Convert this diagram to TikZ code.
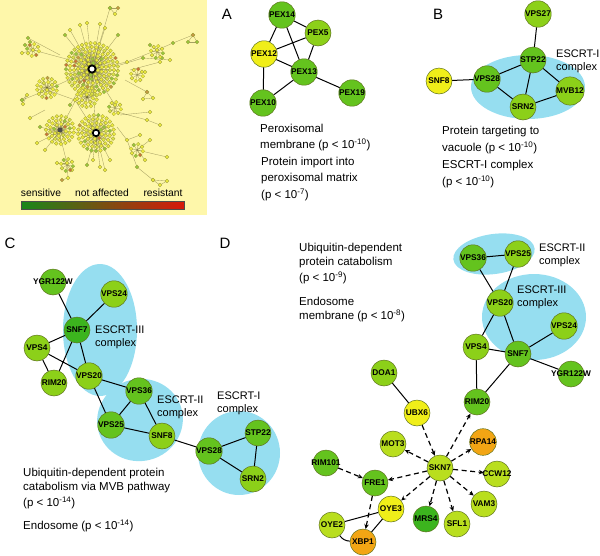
\documentclass[tikz,border=0pt]{standalone}
\usepackage{fontspec}
\setmainfont{Liberation Sans}
\usetikzlibrary{arrows.meta,shapes.geometric}
\definecolor{bgY}{RGB}{254,247,170}
\definecolor{escrt}{RGB}{150,222,240}
\definecolor{nedge}{RGB}{95,115,30}
\definecolor{gD}{RGB}{60,180,30}
\definecolor{gG}{RGB}{100,195,30}
\definecolor{gY}{RGB}{140,208,25}
\definecolor{gL}{RGB}{185,222,30}
\definecolor{gYe}{RGB}{240,238,25}
\definecolor{gO}{RGB}{242,165,20}
\definecolor{hy}{RGB}{238,236,60}
\definecolor{hy2}{RGB}{220,228,70}
\definecolor{hg}{RGB}{150,200,60}
\definecolor{hl}{RGB}{200,150,70}
\definecolor{ho}{RGB}{205,110,60}
\definecolor{hline}{RGB}{95,90,40}
\definecolor{hdotc}{RGB}{160,160,60}
\definecolor{barG}{RGB}{25,135,25}
\definecolor{barY}{RGB}{205,222,25}
\definecolor{barR}{RGB}{215,25,10}
\begin{document}
\begin{tikzpicture}[x=1pt,y=-1pt,
  gene/.style={circle, draw=nedge, line width=0.5pt, minimum size=26pt, inner sep=0pt,
    font=\fontsize{8.3}{8.3}\selectfont\bfseries},
  edge/.style={line width=1pt, black},
  tf/.style={line width=1.2pt, black, dash pattern=on 5pt off 3.5pt, -{Stealth[length=5pt,width=4.5pt]}},
  cx/.style={ellipse, fill=escrt, draw=none, inner sep=0pt},
  lbl/.style={font=\fontsize{11.5}{13}\selectfont, anchor=west, inner sep=0pt},
  clbl/.style={font=\fontsize{11}{13}\selectfont, anchor=west, inner sep=0pt, align=left},
  panel/.style={font=\fontsize{15}{15}\selectfont, inner sep=0pt},
  hl1/.style={draw=hline, line width=0.35pt, draw opacity=0.55},
  hdot/.style={draw=hdotc, line width=0.3pt}]
\useasboundingbox (0,0) rectangle (600,555);
% ---------- overview network ----------
\fill[bgY] (0,0) rectangle (207,215);
\def\branches{92/69/110/8, 110/8/118/8, 118/8/115/14, 115/14/110/8,
  92/69/80/25, 92/69/87/23, 92/69/100/24, 92/69/70/30, 92/69/105/28, 92/69/65/35, 92/69/118/35,
  92/69/127/62, 127/62/157/50, 157/50/173/43, 173/43/193/35, 193/35/197/42, 197/42/188/42, 188/42/193/35,
  120/65/143/58, 143/58/170/60, 130/70/160/62, 157/50/150/45, 157/50/162/58,
  125/80/147/92, 147/92/143/99, 143/99/153/98, 153/98/147/92, 137/75/145/72,
  110/110/147/120, 147/120/160/125, 120/115/150/112,
  117/127/127/140, 127/140/137/167, 137/167/153/180, 153/180/160/185, 160/185/167/181, 167/181/153/180,
  127/140/140/135, 137/150/145/160,
  96/133/93/160, 96/133/100/167, 96/133/110/160, 96/133/87/165, 96/133/105/170,
  59/132/67/163, 67/163/57/163, 67/163/68/178, 67/163/72/170, 68/178/62/180,
  47/90/22/100, 22/100/27/95, 27/95/23/104, 23/104/22/100,
  70/60/33/50, 33/50/22/53, 33/50/25/45, 33/50/30/42, 60/55/28/38,
  59/132/40/127, 59/132/37/143, 45/110/30/118, 59/132/45/150,
  137/150/167/157, 137/150/150/140, 92/69/96/133, 92/69/59/132, 59/132/96/133, 92/69/47/90, 75/100/96/133,
  92/69/70/105, 92/69/115/105, 47/90/75/100}
\def\hubs{92/69/29, 96/133/20, 60/130/14, 87/97/10, 47/88/11, 137/75/8, 33/50/8, 137/150/7, 67/165/7, 157/52/6, 115/108/9}
% pass 1: lines
\foreach \x/\y/\xx/\yy in \branches { \draw[hl1] (\x,\y) -- (\xx,\yy); }
\foreach \cx/\cy/\rmax in \hubs {
  \foreach \rr in {6,...,\rmax} {
    \pgfmathtruncatemacro\rem{mod(\rr,4)}
    \ifnum\rem=2
    \pgfmathtruncatemacro\nn{int(6.283*\rr/4.4)}
    \foreach \j in {1,...,\nn} {
      \draw[hl1] (\cx,\cy) -- ++({360*\j/\nn+17*\rr}:\rr);
    }
    \fi
  }
}
% pass 2: dots
\pgfmathsetseed{11}
\foreach \x/\y/\xx/\yy in \branches {
  \pgfmathtruncatemacro\k{int(20*rnd)}
  \ifnum\k<12 \def\hc{hy}\else\ifnum\k<17 \def\hc{hg}\else\ifnum\k<19 \def\hc{hl}\else\def\hc{ho}\fi\fi\fi
  \filldraw[hdot, fill=\hc] (\xx,\yy) circle (1.9pt);
}
\foreach \cx/\cy/\rmax in \hubs {
  \foreach \rr in {6,...,\rmax} {
    \pgfmathtruncatemacro\rem{mod(\rr,4)}
    \ifnum\rem=2
    \pgfmathtruncatemacro\nn{int(6.283*\rr/4.4)}
    \foreach \j in {1,...,\nn} {
      \pgfmathtruncatemacro\k{int(30*rnd)}
      \ifnum\k<20 \def\hc{hy}\else\ifnum\k<24 \def\hc{hy2}\else\ifnum\k<28 \def\hc{hg}\else\ifnum\k<29 \def\hc{hl}\else\def\hc{ho}\fi\fi\fi\fi
      \filldraw[hdot, fill=\hc] (\cx,\cy) ++({360*\j/\nn+17*\rr}:\rr) circle (1.9pt);
    }
    \fi
  }
}
\draw[line width=1.8pt, fill=white] (92,69) circle (3.6pt);
\draw[line width=1.6pt, fill=white] (96,133) circle (3.2pt);
\fill[black!70] (60,130) circle (2.5pt);
\shade[left color=barG, middle color=barY, right color=barR] (21,201) rectangle (184,209);
\draw[line width=0.4pt, black!70] (21,201) rectangle (184,209);
\node[font=\fontsize{10.3}{11}\selectfont, inner sep=0pt] (lsens) at (41,193) {sensitive};
\node[font=\fontsize{10.3}{11}\selectfont, inner sep=0pt] (lnot) at (102,193) {not affected};
\node[font=\fontsize{10.3}{11}\selectfont, inner sep=0pt] (lres) at (163,193) {resistant};
% ---------- Panel A ----------
\node[panel] (pA) at (227,14) {A};
\node[gene, fill=gG] (pex14) at (282,15) {PEX14};
\node[gene, fill=gY] (pex5) at (318,33) {PEX5};
\node[gene, fill=gYe] (pex12) at (264,54) {PEX12};
\node[gene, fill=gG] (pex13) at (304,72) {PEX13};
\node[gene, fill=gG] (pex10) at (263,103) {PEX10};
\node[gene, fill=gG] (pex19) at (352,93) {PEX19};
\draw[edge] (pex14) -- (pex12) (pex14) -- (pex5) (pex14) -- (pex13) (pex12) -- (pex5)
  (pex12) -- (pex13) (pex12) -- (pex10) (pex5) -- (pex13) (pex13) -- (pex10) (pex13) -- (pex19);
\node[lbl] (tA1) at (260,128) {Peroxisomal};
\node[lbl] (tA2) at (260,145) {membrane (p < 10\textsuperscript{-10})};
\node[lbl] (tA3) at (261,163) {Protein import into};
\node[lbl] (tA4) at (261,179) {peroxisomal matrix};
\node[lbl] (tA5) at (261,195) {(p < 10\textsuperscript{-7})};
% ---------- Panel B ----------
\node[panel] (pB) at (438,14) {B};
\node[cx, minimum width=114pt, minimum height=64pt] (eB) at (528,87) {};
\node[gene, fill=gY] (vps27) at (538,14) {VPS27};
\node[gene, fill=gG] (stp22b) at (533,60) {STP22};
\node[gene, fill=gG] (vps28b) at (487,79) {VPS28};
\node[gene, fill=gYe] (snf8b) at (439,81) {SNF8};
\node[gene, fill=gY] (srn2b) at (523,107) {SRN2};
\node[gene, fill=gY] (mvb12) at (570,91) {MVB12};
\draw[edge] (vps27) -- (stp22b) (snf8b) -- (vps28b) (vps28b) -- (stp22b) (vps28b) -- (srn2b)
  (stp22b) -- (srn2b) (stp22b) -- (mvb12) (srn2b) -- (mvb12);
\node[clbl] (lB) at (556,61) {ESCRT-I\\complex};
\node[lbl] (tB1) at (442,132) {Protein targeting to};
\node[lbl] (tB2) at (442,148) {vacuole (p < 10\textsuperscript{-10})};
\node[lbl] (tB3) at (442,166) {ESCRT-I complex};
\node[lbl] (tB4) at (442,182) {(p < 10\textsuperscript{-10})};
% ---------- Panel C ----------
\node[panel] (pC) at (10,243) {C};
\node[cx, minimum width=74pt, minimum height=132pt] (eC3) at (100,330) {};
\node[cx, minimum width=86pt, minimum height=82pt, rotate=15] (eC2) at (140,420) {};
\node[cx, minimum width=82pt, minimum height=84pt] (eC1) at (239,453) {};
\node[gene, fill=gG] (ygrc) at (53,282) {\makebox[0pt]{YGR122W}};
\node[gene, fill=gY] (vps24c) at (114,294) {VPS24};
\node[gene, fill=gD] (snf7c) at (77,330) {SNF7};
\node[gene, fill=gY] (vps4c) at (37,348) {VPS4};
\node[gene, fill=gY] (rim20c) at (54,383) {RIM20};
\node[gene, fill=gY] (vps20c) at (89,376) {VPS20};
\node[gene, fill=gG] (vps36c) at (139,391) {VPS36};
\node[gene, fill=gG] (vps25c) at (111,425) {VPS25};
\node[gene, fill=gY] (snf8c) at (162,436) {SNF8};
\node[gene, fill=gG] (vps28c) at (209,451) {VPS28};
\node[gene, fill=gG] (stp22c) at (258,433) {STP22};
\node[gene, fill=gY] (srn2c) at (253,479) {SRN2};
\draw[edge] (ygrc) -- (snf7c) (vps24c) -- (snf7c) (snf7c) -- (vps4c) (snf7c) -- (rim20c) (snf7c) -- (vps20c)
  (vps4c) -- (rim20c) (vps4c) -- (vps20c) (vps20c) -- (vps36c) (vps20c) -- (vps25c) (vps36c) -- (vps25c)
  (vps36c) -- (snf8c) (vps25c) -- (snf8c) (snf8c) -- (vps28c) (vps28c) -- (stp22c) (vps28c) -- (srn2c) (stp22c) -- (srn2c);
\node[clbl] (lC3) at (95,337) {ESCRT-III\\complex};
\node[clbl] (lC2) at (157,407) {ESCRT-II\\complex};
\node[clbl] (lC1) at (217,403) {ESCRT-I\\complex};
\node[lbl] (tC1) at (23,474) {Ubiquitin-dependent protein};
\node[lbl] (tC2) at (23,488) {catabolism via MVB pathway};
\node[lbl] (tC3) at (23,503) {(p < 10\textsuperscript{-14})};
\node[lbl] (tC4) at (23,526) {Endosome (p < 10\textsuperscript{-14})};
% ---------- Panel D ----------
\node[panel] (pD) at (225,243) {D};
\node[cx, minimum width=82pt, minimum height=40pt, rotate=8] (eD2) at (494,254) {};
\node[cx, minimum width=104pt, minimum height=86pt] (eD3) at (534,317) {};
\node[gene, fill=gG] (vps36d) at (473,258) {VPS36};
\node[gene, fill=gY] (vps25d) at (518,254) {VPS25};
\node[gene, fill=gY] (vps20d) at (500,303) {VPS20};
\node[gene, fill=gY] (vps24d) at (564,326) {VPS24};
\node[gene, fill=gY] (vps4d) at (476,347) {VPS4};
\node[gene, fill=gG] (snf7d) at (518,354) {SNF7};
\node[gene, fill=gG] (ygrd) at (571,374) {\makebox[0pt]{YGR122W}};
\node[gene, fill=gY] (doa1) at (384,373) {DOA1};
\node[gene, fill=gG] (rim20d) at (477,402) {RIM20};
\node[gene, fill=gYe] (ubx6) at (417,413) {UBX6};
\node[gene, fill=gL] (mot3) at (393,444) {MOT3};
\node[gene, fill=gO] (rpa14) at (483,442) {RPA14};
\node[gene, fill=gL] (skn7) at (440,468) {SKN7};
\node[gene, fill=gG] (rim101) at (326,463) {\makebox[0pt]{RIM101}};
\node[gene, fill=gG] (fre1) at (375,483) {FRE1};
\node[gene, fill=gL] (ccw12) at (497,474) {\makebox[0pt]{CCW12}};
\node[gene, fill=gYe] (oye3) at (391,509) {OYE3};
\node[gene, fill=gL] (vam3) at (484,504) {VAM3};
\node[gene, fill=gD] (mrs4) at (426,519) {MRS4};
\node[gene, fill=gL] (sfl1) at (457,524) {SFL1};
\node[gene, fill=gL] (oye2) at (332,525) {OYE2};
\node[gene, fill=gO] (xbp1) at (363,542) {XBP1};
\draw[edge] (vps36d) -- (vps25d) (vps36d) -- (vps20d) (vps25d) -- (vps20d) (vps20d) -- (vps4d) (vps20d) -- (snf7d)
  (vps4d) -- (snf7d) (snf7d) -- (vps24d) (snf7d) -- (ygrd) (vps4d) -- (rim20d) (snf7d) -- (rim20d)
  (doa1) -- (ubx6) (oye2) -- (oye3) (oye3) -- (xbp1);
\draw[edge] (oye2) to[bend right=25] (xbp1);
\draw[tf] (skn7) -- (rim20d);
\draw[tf] (skn7) -- (rpa14);
\draw[tf] (skn7) -- (ccw12);
\draw[tf] (skn7) -- (vam3);
\draw[tf] (skn7) -- (sfl1);
\draw[tf] (skn7) -- (mrs4);
\draw[tf] (skn7) -- (oye3);
\draw[tf] (skn7) -- (fre1);
\draw[tf] (skn7) -- (mot3);
\draw[tf] (ubx6) -- (skn7);
\draw[tf] (rim101) -- (fre1);
\draw[tf] (fre1) -- (xbp1);
\node[clbl] (lD2) at (539,255) {ESCRT-II\\complex};
\node[clbl] (lD3) at (517,297) {ESCRT-III\\complex};
\node[lbl] (tD1) at (299,249) {Ubiquitin-dependent};
\node[lbl] (tD2) at (299,263) {protein catabolism};
\node[lbl] (tD3) at (299,278) {(p < 10\textsuperscript{-9})};
\node[lbl] (tD4) at (299,301) {Endosome};
\node[lbl] (tD5) at (299,316) {membrane (p < 10\textsuperscript{-8})};
\end{tikzpicture}
\end{document}
